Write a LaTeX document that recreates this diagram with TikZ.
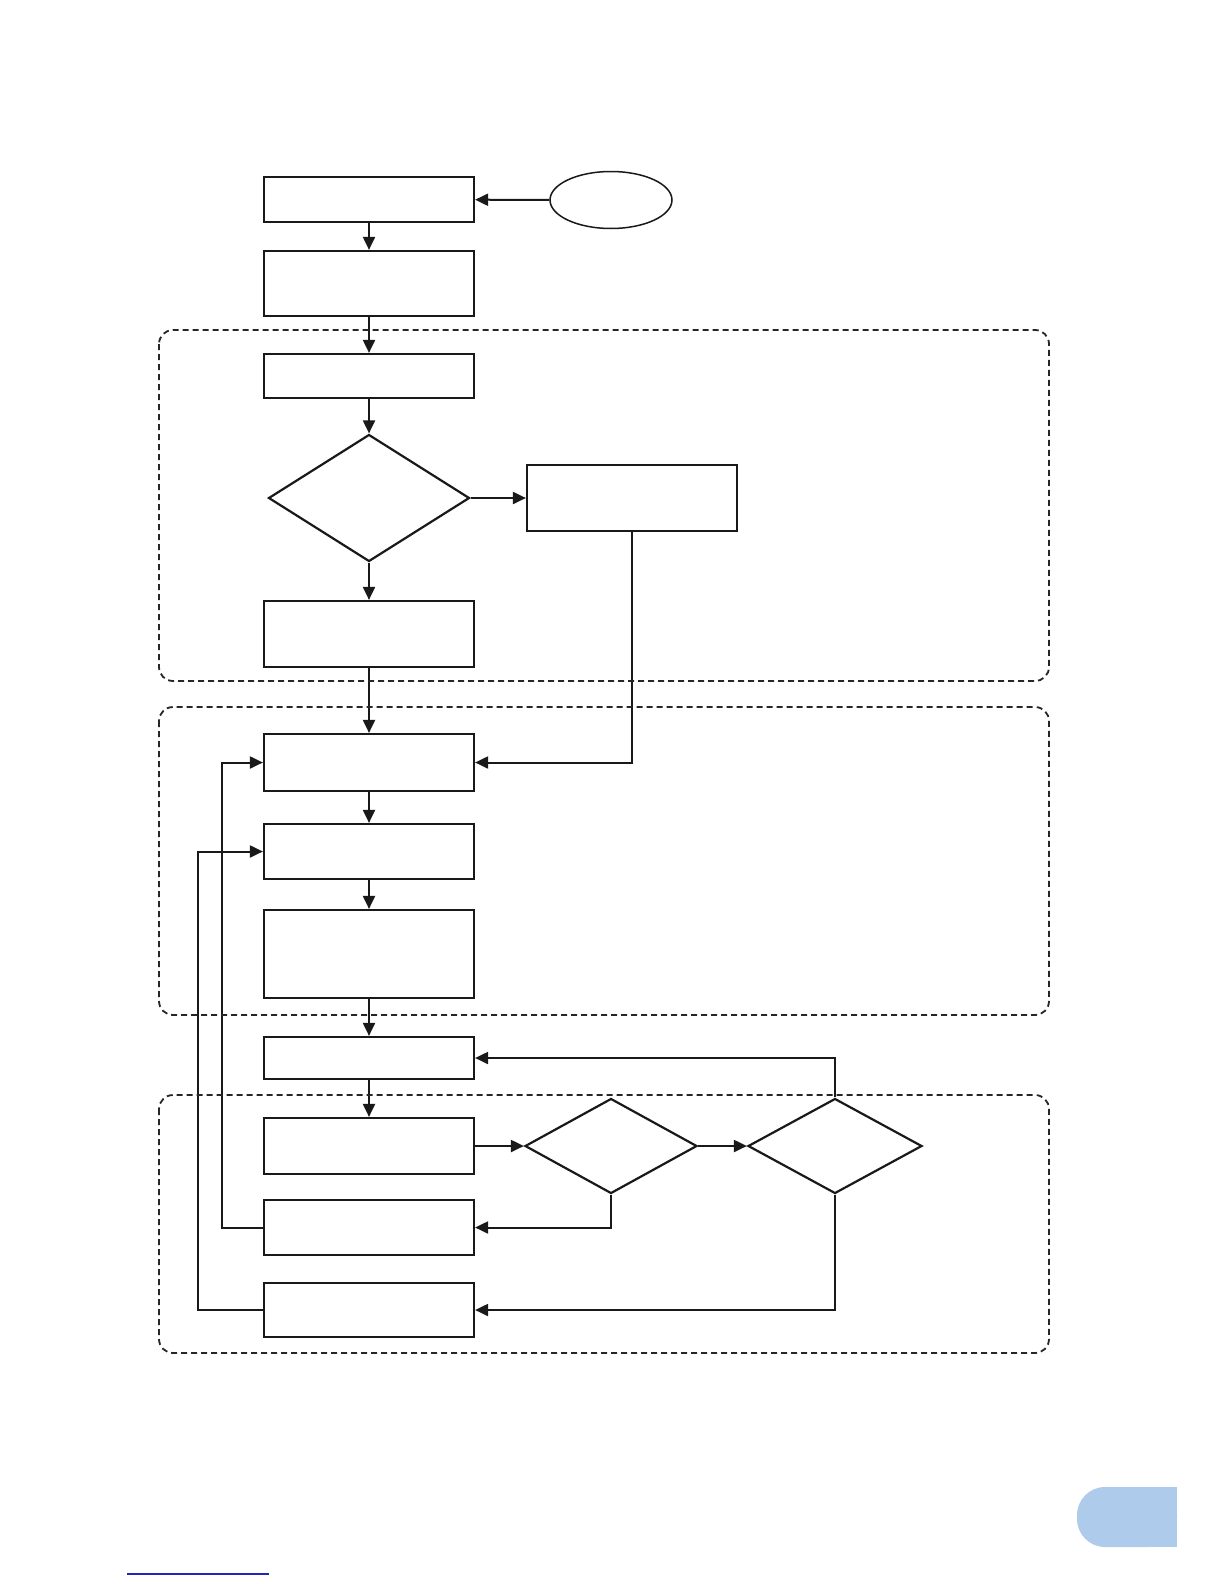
\documentclass[tikz,border=0pt]{standalone}
\usepackage{tikz}
\usetikzlibrary{shapes.geometric,arrows.meta}
\definecolor{tabblue}{RGB}{174,203,235}
\definecolor{rulerblue}{RGB}{35,35,190}

\begin{document}
\begin{tikzpicture}[x=1pt, y=-1pt,
        box/.style={rectangle, draw=black!90, line width=2.2pt, minimum width=210pt, inner sep=0pt},
        dec/.style={diamond, draw=black!90, line width=2.2pt, inner sep=0pt},
        term/.style={ellipse, draw=black!90, line width=1.5pt, minimum width=122pt, minimum height=57pt},
        flow/.style={->, >={Triangle[length=13pt, width=12pt]}, line width=2pt, draw=black!90},
        group/.style={dashed, dash pattern=on 6pt off 4pt, line width=1.8pt, rounded corners=14pt, draw=black!85}
    ]
        \useasboundingbox (0,0) rectangle (1224,1584);

        % Nodes
        \node[term] (start) at (611, 200) {};
        \node[box, minimum height=45pt] (a) at (369, 199.5) {};
        \node[box, minimum height=65pt] (b) at (369, 283.5) {};
        \node[box, minimum height=44pt] (c) at (369, 376) {};
        \node[dec, minimum width=201pt, minimum height=127pt] (check) at (369, 498) {};
        \node[box, minimum height=66pt] (e) at (632, 498) {};
        \node[box, minimum height=66pt] (f) at (369, 634) {};
        \node[box, minimum height=57pt] (g) at (369, 762.5) {};
        \node[box, minimum height=55pt] (h) at (369, 851.5) {};
        \node[box, minimum height=88pt] (i) at (369, 954) {};
        \node[box, minimum height=42pt] (j) at (369, 1058) {};
        \node[box, minimum height=56pt] (k) at (369, 1146) {};
        \node[dec, minimum width=172pt, minimum height=95pt] (test1) at (611, 1146) {};
        \node[dec, minimum width=174pt, minimum height=95pt] (test2) at (835, 1146) {};
        \node[box, minimum height=55pt] (l) at (369, 1227.5) {};
        \node[box, minimum height=54pt] (m) at (369, 1310) {};

        % Edges
        \draw[flow] (start) -- (a);
        \draw[flow] (a) -- (b);
        \draw[flow] (b) -- (c);
        \draw[flow] (c) -- (check);
        \draw[flow] (check) -- (e);
        \draw[flow] (check) -- (f);
        \draw[flow] (f) -- (g);
        \draw[flow] (e.south) |- (g.east);
        \draw[flow] (g) -- (h);
        \draw[flow] (h) -- (i);
        \draw[flow] (i) -- (j);
        \draw[flow] (j) -- (k);
        \draw[flow] (k) -- (test1);
        \draw[flow] (test1) -- (test2);
        \draw[flow] (test2.north) |- (j.east);
        \draw[flow] (test1.south) |- (l.east);
        \draw[flow] (test2.south) |- (m.east);
        \draw[flow] (l.west) -- ++(-41, 0) |- (g.west);
        \draw[flow] (m.west) -- ++(-65, 0) |- (h.west);

        % Groups (dashed)
        \draw[group] (159, 330) rectangle (1049, 681);
        \draw[group] (159, 707) rectangle (1049, 1015);
        \draw[group] (159, 1095) rectangle (1049, 1353);

        % Page tab and rule
        \fill[tabblue, rounded corners=28pt] (1077, 1487) rectangle (1177, 1547);
        \fill[tabblue] (1125, 1487) rectangle (1177, 1547);
        \draw[rulerblue, line width=1.4pt] (127, 1574) -- (269, 1574);

    \end{tikzpicture}
\end{document}
